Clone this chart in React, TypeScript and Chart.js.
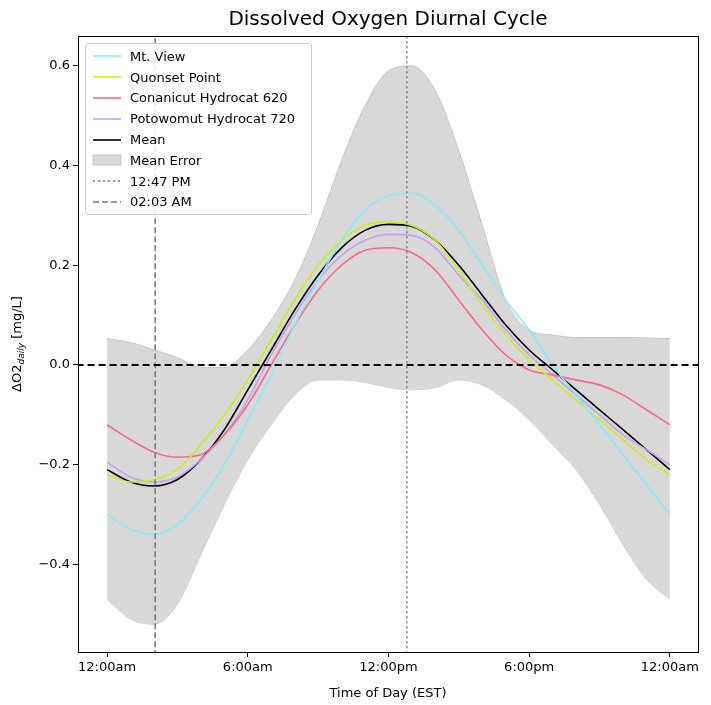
import React, { useEffect, useRef } from "react";
import { Chart, registerables } from "chart.js";
Chart.register(...registerables);

const hours = [0,1,2,3,4,5,6,7,8,9,10,11,12,13,14,15,16,17,18,19,20,21,22,23,24];
const mtView = [-0.30,-0.33,-0.34,-0.32,-0.27,-0.20,-0.11,-0.02,0.08,0.17,0.25,0.31,0.34,0.345,0.32,0.27,0.20,0.13,0.07,0.0,-0.06,-0.12,-0.18,-0.24,-0.30];
const quonset = [-0.22,-0.235,-0.23,-0.21,-0.16,-0.10,-0.03,0.05,0.13,0.20,0.25,0.28,0.287,0.28,0.25,0.19,0.12,0.06,0.01,-0.03,-0.07,-0.11,-0.15,-0.19,-0.22];
const conanicut = [-0.12,-0.15,-0.175,-0.185,-0.18,-0.14,-0.08,0.0,0.08,0.15,0.20,0.23,0.235,0.225,0.19,0.13,0.07,0.02,-0.01,-0.02,-0.03,-0.04,-0.06,-0.09,-0.12];
const potowomut = [-0.195,-0.225,-0.235,-0.225,-0.19,-0.14,-0.07,0.02,0.10,0.17,0.22,0.25,0.262,0.26,0.235,0.18,0.13,0.07,0.02,-0.02,-0.06,-0.10,-0.14,-0.17,-0.20];
const meanVals = [-0.21,-0.235,-0.243,-0.23,-0.19,-0.13,-0.05,0.03,0.11,0.18,0.235,0.27,0.282,0.278,0.25,0.20,0.14,0.08,0.03,-0.01,-0.05,-0.09,-0.13,-0.17,-0.21];
const errUpper = [0.053,0.045,0.03,0.015,-0.005,-0.005,0.03,0.09,0.17,0.28,0.41,0.52,0.59,0.60,0.55,0.43,0.28,0.13,0.07,0.06,0.055,0.055,0.055,0.054,0.053];
const errLower = [-0.47,-0.51,-0.52,-0.48,-0.38,-0.28,-0.19,-0.12,-0.06,-0.03,-0.03,-0.035,-0.045,-0.05,-0.045,-0.03,-0.04,-0.07,-0.11,-0.16,-0.21,-0.28,-0.36,-0.43,-0.47];
const peakHour = 12 + 47 / 60;
const troughHour = 2 + 3 / 60;
const xTickValues = [0, 6, 12, 18, 24];
const xTickLabels = ["12:00am", "6:00am", "12:00pm", "6:00pm", "12:00am"];
const yTickValues = [-0.4, -0.2, 0, 0.2, 0.4, 0.6];

const pts = (ys: number[]) => hours.map((h, i) => ({ x: h, y: ys[i] }));
const FONT = "'DejaVu Sans', sans-serif";

const legendItems = [
  { label: "Mt. View", color: "#80EEFF", type: "line" },
  { label: "Quonset Point", color: "#C8F016", type: "line" },
  { label: "Conanicut Hydrocat 620", color: "#FF6688", type: "line" },
  { label: "Potowomut Hydrocat 720", color: "#C8A0F0", type: "line" },
  { label: "Mean", color: "#000000", type: "line" },
  { label: "Mean Error", color: "#d6d6d6", type: "box" },
  { label: "12:47 PM", color: "#777777", type: "dot" },
  { label: "02:03 AM", color: "#777777", type: "dash" },
];

export default function App() {
  const ref = useRef<HTMLCanvasElement>(null);
  useEffect(() => {
    const line = (label: string, data: number[], color: string, w = 1.6) => ({
      label, data: pts(data), borderColor: color, borderWidth: w, pointRadius: 0, order: 1,
      fill: false, cubicInterpolationMode: "monotone" as const,
    });
    const chart = new Chart(ref.current!, {
      type: "line",
      data: {
        datasets: [
          { label: "lower", data: pts(errLower), borderColor: "#c4c4c4", borderWidth: 1, pointRadius: 0, fill: false, order: 10, cubicInterpolationMode: "monotone" },
          { label: "Mean Error", data: pts(errUpper), borderColor: "#c4c4c4", borderWidth: 1, pointRadius: 0, fill: "-1", order: 9, backgroundColor: "#d8d8d8", cubicInterpolationMode: "monotone" },
          line("Mt. View", mtView, "#80EEFF"),
          line("Quonset Point", quonset, "#C8F016"),
          line("Conanicut Hydrocat 620", conanicut, "#FF6688"),
          line("Potowomut Hydrocat 720", potowomut, "#C8A0F0"),
          line("Mean", meanVals, "#000000"),
          { label: "zero", data: [{ x: -1.3, y: 0 }, { x: 25.3, y: 0 }], borderColor: "#000", borderWidth: 2, borderDash: [7, 4], pointRadius: 0, fill: false, order: 0 },
          { label: "12:47 PM", data: [{ x: peakHour, y: -1 }, { x: peakHour, y: 1 }], borderColor: "#777", borderWidth: 1.5, borderDash: [2, 3], pointRadius: 0, fill: false, order: 0 },
          { label: "02:03 AM", data: [{ x: troughHour, y: -1 }, { x: troughHour, y: 1 }], borderColor: "#777", borderWidth: 1.5, borderDash: [6, 3], pointRadius: 0, fill: false, order: 0 },
        ],
      },
      options: {
        animation: false, responsive: false, devicePixelRatio: 1,
        layout: { padding: { left: 0, right: 13, top: 36, bottom: 0 } },
        plugins: { legend: { display: false }, tooltip: { enabled: false } },
        scales: {
          x: {
            type: "linear", min: -1.24, max: 25.2,
            afterFit: (s: any) => { s.height = 53; },
            afterBuildTicks: (s: any) => { s.ticks = xTickValues.map((v) => ({ value: v })); },
            ticks: { color: "#000", font: { family: FONT, size: 13 }, maxRotation: 0, callback: (v: any) => xTickLabels[xTickValues.indexOf(Number(v))] ?? "" },
            grid: { drawOnChartArea: false, color: "#000", tickLength: 5 },
            border: { color: "#000" },
            title: { display: true, text: "Time of Day (EST)", color: "#000", font: { family: FONT, size: 13 }, padding: { top: 0 } },
          },
          y: {
            type: "linear", min: -0.576, max: 0.66,
            afterFit: (s: any) => { s.width = 78; },
            afterBuildTicks: (s: any) => { s.ticks = yTickValues.map((v) => ({ value: v })); },
            ticks: { color: "#000", font: { family: FONT, size: 13 }, callback: (v: any) => Number(v).toFixed(1).replace("-", "\u2212") },
            grid: { drawOnChartArea: false, color: "#000", tickLength: 5 },
            border: { color: "#000" },
          },
        },
      },
      plugins: [{
        id: "extras",
        afterDraw(c: any) {
          const ctx = c.ctx; const a = c.chartArea;
          ctx.save();
          ctx.strokeStyle = "#000"; ctx.lineWidth = 1;
          ctx.strokeRect(a.left + 0.5, a.top + 0.5, a.right - a.left, a.bottom - a.top);
          ctx.fillStyle = "#000"; ctx.textAlign = "center"; ctx.textBaseline = "middle";
          ctx.font = `20px ${FONT}`;
          ctx.fillText("Dissolved Oxygen Diurnal Cycle", (a.left + a.right) / 2, 20);
          ctx.translate(18, (a.top + a.bottom) / 2);
          ctx.rotate(-Math.PI / 2);
          ctx.textAlign = "left";
          const p1 = "\u0394O2", p2 = "daily", p3 = " [mg/L]";
          ctx.font = `13px ${FONT}`; const w1 = ctx.measureText(p1).width; const w3 = ctx.measureText(p3).width;
          ctx.font = `italic 9px ${FONT}`; const w2 = ctx.measureText(p2).width;
          let x = -(w1 + w2 + w3) / 2;
          ctx.font = `13px ${FONT}`; ctx.fillText(p1, x, 0); x += w1;
          ctx.font = `italic 9px ${FONT}`; ctx.fillText(p2, x, 4); x += w2;
          ctx.font = `13px ${FONT}`; ctx.fillText(p3, x, 0);
          ctx.restore();
        },
      }],
    });
    return () => chart.destroy();
  }, []);

  return (
    <div style={{ position: "absolute", left: 0, top: 0, width: 711, height: 705 }}>
      <canvas ref={ref} width={711} height={705} />
      <div style={{ position: "absolute", left: 85, top: 43, width: 227, border: "1px solid #ccc", borderRadius: 3, background: "rgba(255,255,255,0.85)", padding: "2px 6px", fontFamily: FONT, fontSize: 13, boxSizing: "border-box" }}>
        {legendItems.map((it) => (
          <div key={it.label} style={{ display: "flex", alignItems: "center", height: 20.8 }}>
            <svg width={30} height={12} style={{ marginRight: 8 }}>
              {it.type === "box" ? (
                <rect x={1} y={1} width={28} height={10} fill="#d8d8d8" stroke="#c4c4c4" />
              ) : (
                <line x1={1} y1={6} x2={29} y2={6} stroke={it.color} strokeWidth={1.6}
                  strokeDasharray={it.type === "dot" ? "2 3" : it.type === "dash" ? "6 3" : undefined} />
              )}
            </svg>
            <span>{it.label}</span>
          </div>
        ))}
      </div>
    </div>
  );
}
